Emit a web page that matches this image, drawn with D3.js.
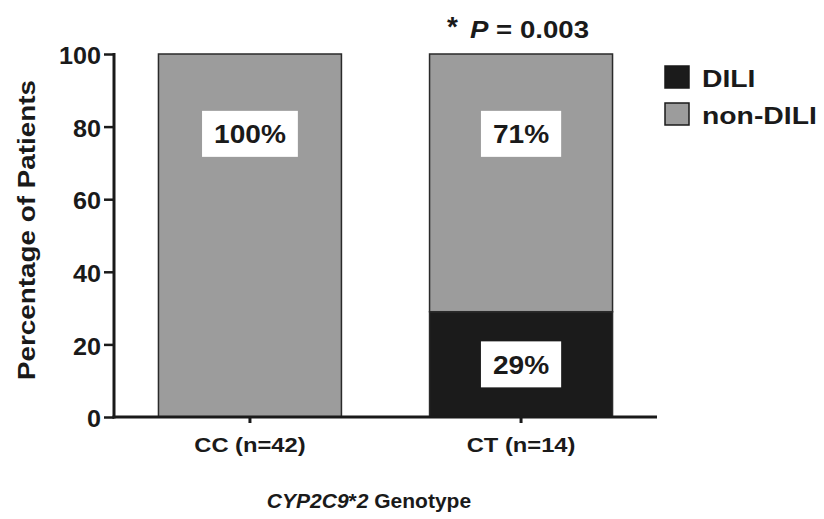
<!DOCTYPE html>
<html>
<head>
<meta charset="utf-8">
<script src="https://cdn.jsdelivr.net/npm/d3@7"></script>
<style>
  body { margin: 0; background: #fff; }
  text { font-family: "Liberation Sans", Arial, sans-serif; font-weight: bold; fill: #1a1a1a; }
</style>
</head>
<body>
<div id="app"></div>
<script>
const width = 824;
const height = 519;

// data
const genotypes = ['CC (n=42)', 'CT (n=14)'];
const dili = [0, 29];
const nonDili = [100, 71];
const labelValues = [[null, 78], [14.5, 78]];   // where the % boxes sit (value units)
const yTicks = [0, 20, 40, 60, 80, 100];
const seriesNames = ['DILI', 'non-DILI'];
const colors = ['#1b1b1b', '#9c9c9c'];

const svg = d3.select('#app').append('svg')
  .attr('width', width)
  .attr('height', height);

const x = d3.scaleBand()
  .domain(genotypes)
  .range([114, 657])
  .paddingInner(0.325)
  .paddingOuter(0.164);

const y = d3.scaleLinear()
  .domain([0, 100])
  .range([417, 54]);

// stacked bars
const rows = genotypes.map((g, i) => ({ g, DILI: dili[i], 'non-DILI': nonDili[i] }));
const stacked = d3.stack().keys(seriesNames)(rows);

svg.append('g')
  .selectAll('g')
  .data(stacked)
  .enter().append('g')
  .attr('fill', (_, i) => colors[i])
  .selectAll('rect')
  .data(d => d)
  .enter().append('rect')
  .attr('x', d => x(d.data.g))
  .attr('y', d => y(d[1]))
  .attr('width', x.bandwidth())
  .attr('height', d => y(d[0]) - y(d[1]))
  .attr('stroke', '#2a2a2a')
  .attr('stroke-width', 1.5);

// percentage boxes
const labels = [];
genotypes.forEach((g, i) => {
  if (dili[i] > 0) labels.push({ g, v: dili[i], at: labelValues[i][0] });
  if (nonDili[i] > 0) labels.push({ g, v: nonDili[i], at: labelValues[i][1] });
});

const lab = svg.append('g').selectAll('g')
  .data(labels)
  .enter().append('g')
  .attr('transform', d => `translate(${x(d.g) + x.bandwidth() / 2},${y(d.at)})`);

lab.append('rect')
  .attr('fill', '#fff');

lab.append('text')
  .attr('text-anchor', 'middle')
  .attr('dy', '0.36em')
  .style('font-size', '26px')
  .text(d => `${d.v}%`)
  .each(function () {
    const w = this.getComputedTextLength() * 1.08;
    d3.select(this).attr('textLength', w).attr('lengthAdjust', 'spacingAndGlyphs');
    const pad = 12;
    d3.select(this.parentNode).select('rect')
      .attr('x', -w / 2 - pad)
      .attr('y', -23)
      .attr('width', w + pad * 2)
      .attr('height', 46);
  });

// y axis
const yAxis = svg.append('g')
  .attr('transform', 'translate(114,0)')
  .call(d3.axisLeft(y).tickValues(yTicks).tickSize(10).tickPadding(3));

yAxis.select('.domain').attr('stroke', '#1a1a1a').attr('stroke-width', 3)
  .attr('d', `M0,${y(100) - 1}V${y(0) + 1.5}`);
yAxis.selectAll('.tick line').attr('stroke', '#1a1a1a').attr('stroke-width', 2.5);
yAxis.selectAll('.tick text')
  .style('font-size', '24px')
  .attr('dy', '0.4em')
  .attr('fill', '#1a1a1a')
  .each(function () {
    d3.select(this)
      .attr('textLength', this.getComputedTextLength() * 1.05)
      .attr('lengthAdjust', 'spacingAndGlyphs');
  });

// x axis
const xAxis = svg.append('g')
  .attr('transform', `translate(0,${y(0)})`)
  .call(d3.axisBottom(x).tickSize(6).tickPadding(10));

xAxis.select('.domain').attr('stroke', '#1a1a1a').attr('stroke-width', 3)
  .attr('d', 'M112.5,0H657');
xAxis.selectAll('.tick line').attr('stroke', '#1a1a1a').attr('stroke-width', 3);
xAxis.selectAll('.tick text')
  .style('font-size', '21px')
  .attr('dy', '0.9em')
  .attr('fill', '#1a1a1a')
  .each(function () {
    d3.select(this)
      .attr('textLength', this.getComputedTextLength() * 1.13)
      .attr('lengthAdjust', 'spacingAndGlyphs');
  });

// axis titles
svg.append('text')
  .attr('transform', 'translate(35,230) rotate(-90)')
  .attr('text-anchor', 'middle')
  .style('font-size', '24px')
  .attr('textLength', 300)
  .attr('lengthAdjust', 'spacingAndGlyphs')
  .text('Percentage of Patients');

const xt = svg.append('text')
  .attr('x', 369)
  .attr('y', 508)
  .attr('text-anchor', 'middle')
  .style('font-size', '21px');
xt.append('tspan').style('font-style', 'italic').text('CYP2C9');
xt.append('tspan').text('*');
xt.append('tspan').style('font-style', 'italic').text('2');
xt.append('tspan').text(' Genotype');

// significance
const star = svg.append('text')
  .attr('x', 447)
  .attr('y', 36)
  .style('font-size', '28px')
  .text('*');

const pt = svg.append('text')
  .attr('x', 470)
  .attr('y', 38)
  .style('font-size', '24px')
  .attr('textLength', 119)
  .attr('lengthAdjust', 'spacingAndGlyphs');
pt.append('tspan').style('font-style', 'italic').text('P');
pt.append('tspan').text(' = 0.003');

// legend
const legend = svg.append('g')
  .selectAll('g')
  .data(seriesNames)
  .enter().append('g')
  .attr('transform', (_, i) => `translate(665,${66 + i * 37})`);

legend.append('rect')
  .attr('width', 24)
  .attr('height', 22)
  .attr('fill', (_, i) => colors[i])
  .attr('stroke', '#1a1a1a')
  .attr('stroke-width', 1.5);

legend.append('text')
  .attr('x', 37)
  .attr('y', 21)
  .style('font-size', '24px')
  .text(d => d)
  .each(function () {
    d3.select(this)
      .attr('textLength', this.getComputedTextLength() * 1.18)
      .attr('lengthAdjust', 'spacingAndGlyphs');
  });
</script>
</body>
</html>
